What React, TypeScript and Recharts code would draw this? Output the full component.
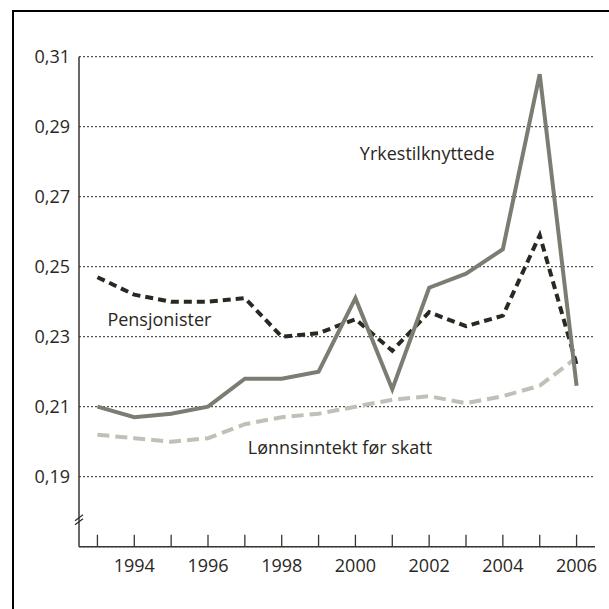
import React from "react";
import {
  LineChart,
  Line,
  XAxis,
  YAxis,
  CartesianGrid,
  ReferenceDot,
} from "recharts";

const years = [1993, 1994, 1995, 1996, 1997, 1998, 1999, 2000, 2001, 2002, 2003, 2004, 2005, 2006];
const yrkestilknyttede = [0.21, 0.207, 0.208, 0.21, 0.218, 0.218, 0.22, 0.241, 0.215, 0.244, 0.248, 0.255, 0.305, 0.216];
const pensjonister = [0.247, 0.242, 0.24, 0.24, 0.241, 0.23, 0.231, 0.235, 0.226, 0.237, 0.233, 0.236, 0.259, 0.222];
const lonnsinntekt = [0.202, 0.201, 0.2, 0.201, 0.205, 0.207, 0.208, 0.21, 0.212, 0.213, 0.211, 0.213, 0.216, 0.224];
const yTicks = [0.19, 0.21, 0.23, 0.25, 0.27, 0.29, 0.31];
const labeledYears = [1994, 1996, 1998, 2000, 2002, 2004, 2006];

const seriesLabels = [
  { text: "Yrkestilknyttede", year: 2000.12, value: 0.2805 },
  { text: "Pensjonister", year: 1993.27, value: 0.2331 },
  { text: "Lønnsinntekt før skatt", year: 1997.08, value: 0.1965 },
];
const axisBreak = { year: 1992.5, value: 0.178 };

const data = years.map((y, i) => ({
  year: y,
  yrkes: yrkestilknyttede[i],
  pens: pensjonister[i],
  lonn: lonnsinntekt[i],
}));

const FONT = "'Open Sans', sans-serif";
const TEXT = "#2a2723";

const XTick = (props: any) => {
  const { x, y, payload } = props;
  const v = payload.value;
  return (
    <g>
      <line x1={x} x2={x} y1={y} y2={y - 12} stroke="#3a3530" strokeWidth={1.3} />
      {labeledYears.includes(v) ? (
        <text x={x} y={y + 25} textAnchor="middle" fontSize={18} fontFamily={FONT} fill={TEXT}>
          {v}
        </text>
      ) : null}
    </g>
  );
};

const YTick = (props: any) => {
  const { x, y, payload } = props;
  return (
    <text x={x} y={y + 6} textAnchor="end" fontSize={18} fontFamily={FONT} fill={TEXT}>
      {payload.value.toFixed(2).replace(".", ",")}
    </text>
  );
};

export default function App() {
  return (
    <div style={{ position: "absolute", left: 0, top: 0, width: 609, height: 609, background: "#fff", overflow: "hidden" }}>
      <style>{`html,body{margin:0;overflow:hidden;}`}</style>
      <div style={{ position: "absolute", left: 12, top: 10, width: 2, height: 599, background: "#000" }} />
      <div style={{ position: "absolute", left: 12, top: 10, width: 597, height: 2, background: "#000" }} />
      <div style={{ position: "absolute", left: 0, top: 0 }}>
        <LineChart
          width={609}
          height={609}
          data={data}
          margin={{ top: 56.7, right: 14, bottom: 0, left: 0 }}
        >
          <CartesianGrid
            horizontal={true}
            vertical={false}
            stroke="#2d2a26"
            strokeDasharray="2 2"
            strokeWidth={1}
          />
          <XAxis
            dataKey="year"
            type="number"
            domain={[1992.5, 2006.5]}
            ticks={years}
            interval={0}
            tickLine={false}
            tickSize={0}
            tickMargin={0}
            axisLine={{ stroke: "#3a3530", strokeWidth: 1.5 }}
            tick={<XTick />}
            height={62.3}
          />
          <YAxis
            type="number"
            domain={[0.17, 0.31]}
            ticks={yTicks}
            interval={0}
            tickLine={false}
            tickSize={0}
            tickMargin={9}
            axisLine={{ stroke: "#3a3530", strokeWidth: 1.5 }}
            tick={<YTick />}
            width={79}
            allowDataOverflow
          />
          <Line
            dataKey="lonn"
            stroke="#bfc0b7"
            strokeWidth={4}
            strokeDasharray="12 6"
            dot={false}
            isAnimationActive={false}
          />
          <Line
            dataKey="pens"
            stroke="#2b2822"
            strokeWidth={4}
            strokeDasharray="8 5"
            dot={false}
            isAnimationActive={false}
          />
          <Line
            dataKey="yrkes"
            stroke="#7c7d72"
            strokeWidth={4}
            dot={false}
            isAnimationActive={false}
          />
          {seriesLabels.map((l) => (
            <ReferenceDot
              key={l.text}
              x={l.year}
              y={l.value}
              r={0}
              stroke="none"
              fill="none"
              ifOverflow="visible"
              label={(p: any) => (
                <text
                  x={p.viewBox.x}
                  y={p.viewBox.y}
                  textAnchor="start"
                  fontSize={18}
                  fontFamily={FONT}
                  fill={TEXT}
                >
                  {l.text}
                </text>
              )}
            />
          ))}
          <ReferenceDot
            x={axisBreak.year}
            y={axisBreak.value}
            r={0}
            stroke="none"
            fill="none"
            ifOverflow="visible"
            label={(p: any) => (
              <g stroke="#2d2a26" strokeWidth={1.2}>
                <line x1={p.viewBox.x - 4} y1={p.viewBox.y + 2} x2={p.viewBox.x + 4} y2={p.viewBox.y - 4} />
                <line x1={p.viewBox.x - 4} y1={p.viewBox.y + 6} x2={p.viewBox.x + 4} y2={p.viewBox.y} />
              </g>
            )}
          />
        </LineChart>
      </div>
    </div>
  );
}
